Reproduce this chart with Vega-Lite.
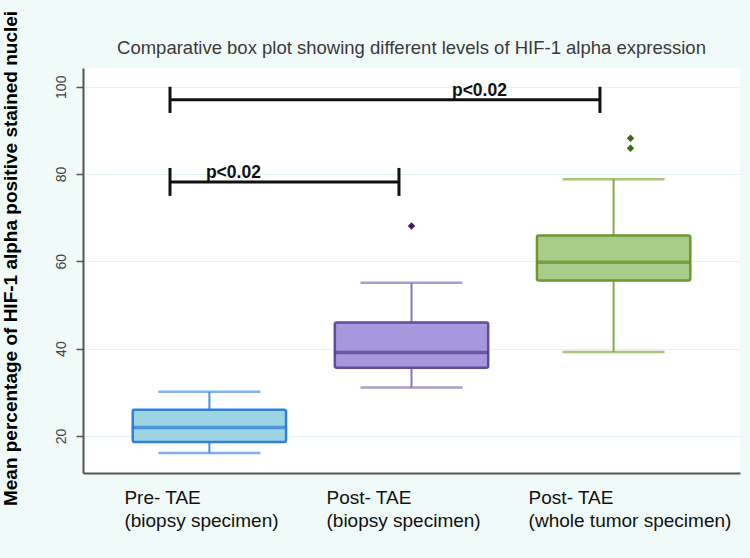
{
  "$schema": "https://vega.github.io/schema/vega-lite/v6.json",
  "width": 657,
  "height": 405,
  "autosize": {"type": "none"},
  "padding": {"left": 83, "top": 68, "right": 10, "bottom": 85},
  "background": "#f0faf9",
  "config": {
    "view": {"fill": "white", "stroke": null},
    "font": "Liberation Sans"
  },
  "title": {
    "text": "Comparative box plot showing different levels of HIF-1 alpha expression",
    "fontSize": 18.5,
    "fontWeight": "normal",
    "color": "#3a3a3a",
    "anchor": "middle",
    "offset": 6,
    "dy": 53,
    "font": "Liberation Sans"
  },
  "datasets": {
    "boxes": [
      {"group": "Pre- TAE|(biopsy specimen)", "lo": 16.1, "q1": 18.6, "med": 21.9, "q3": 26.0, "hi": 30.1},
      {"group": "Post- TAE|(biopsy specimen)", "lo": 31.1, "q1": 35.6, "med": 39.1, "q3": 46.0, "hi": 55.1},
      {"group": "Post- TAE|(whole tumor specimen)", "lo": 39.2, "q1": 55.6, "med": 59.8, "q3": 65.9, "hi": 78.8}
    ],
    "outliers": [
      {"group": "Post- TAE|(biopsy specimen)", "value": 68.1},
      {"group": "Post- TAE|(whole tumor specimen)", "value": 88.2},
      {"group": "Post- TAE|(whole tumor specimen)", "value": 85.9}
    ],
    "bars": [
      {"x1": 0.803, "x2": 2.921, "y": 97.0},
      {"x1": 0.803, "x2": 1.931, "y": 78.2}
    ],
    "ends": [
      {"x": 0.803, "ylo": 94.0, "yhi": 100.0},
      {"x": 2.921, "ylo": 94.0, "yhi": 100.0},
      {"x": 0.803, "ylo": 75.0, "yhi": 81.4},
      {"x": 1.931, "ylo": 75.0, "yhi": 81.4}
    ],
    "plabels": [
      {"x": 2.192, "y": 97.0, "label": "p<0.02"},
      {"x": 0.98, "y": 78.2, "label": "p<0.02"}
    ]
  },
  "layer": [
    {
      "encoding": {
        "x": {
          "field": "group",
          "type": "nominal",
          "sort": null,
          "scale": {"paddingInner": 0.2414, "paddingOuter": 0.246},
          "axis": {
            "title": null,
            "domain": true,
            "domainColor": "#555555",
            "domainWidth": 2,
            "ticks": false,
            "grid": false,
            "labelAngle": 0,
            "labelAlign": "left",
            "labelBaseline": "top",
            "labelOffset": -85,
            "labelPadding": 15,
            "labelFontSize": 19,
            "labelFont": "Liberation Sans",
            "labelColor": "#111111",
            "labelLineHeight": 23,
            "labelLimit": 0,
            "labelOverlap": false,
            "labelBound": false,
            "labelExpr": "split(datum.label, '|')"
          }
        }
      },
      "layer": [
        {
          "data": {"name": "boxes"},
          "mark": {"type": "rule", "strokeWidth": 2},
          "encoding": {
            "y": {
              "field": "lo",
              "type": "quantitative",
              "scale": {"domain": [11.5, 104.3], "nice": false, "zero": false},
              "axis": {
                "values": [20, 40, 60, 80, 100],
                "title": "Mean percentage of HIF-1 alpha positive stained nuclei",
                "titleFontSize": 19,
                "titleFontWeight": "bold",
                "titleColor": "#000000",
                "titleAngle": 270,
                "titleAlign": "center",
                "titleBaseline": "middle",
                "titleX": -73,
                "titleY": 190,
                "titleFont": "Liberation Sans",
                "titleLimit": 0,
                "domainColor": "#555555",
                "domainWidth": 2,
                "tickColor": "#555555",
                "tickSize": 7,
                "tickWidth": 1.5,
                "labelAngle": 270,
                "labelAlign": "center",
                "labelBaseline": "bottom",
                "labelPadding": 8,
                "labelFontSize": 14,
                "labelColor": "#444444",
                "gridColor": "#e3f3f2",
                "gridWidth": 1
              }
            },
            "y2": {"field": "hi"},
            "color": {
              "field": "group",
              "type": "nominal",
              "sort": null,
              "scale": {"range": ["#4a8fe0", "#8a72bd", "#86ab44"]},
              "legend": null
            }
          }
        },
        {
          "data": {"name": "boxes"},
          "mark": {"type": "tick", "size": 102, "thickness": 2.5},
          "encoding": {
            "y": {"field": "lo", "type": "quantitative"},
            "color": {"field": "group", "type": "nominal", "sort": null, "legend": null}
          }
        },
        {
          "data": {"name": "boxes"},
          "mark": {"type": "tick", "size": 102, "thickness": 2.5},
          "encoding": {
            "y": {"field": "hi", "type": "quantitative"},
            "color": {"field": "group", "type": "nominal", "sort": null, "legend": null}
          }
        },
        {
          "data": {"name": "boxes"},
          "mark": {"type": "bar", "strokeWidth": 2.5, "cornerRadius": 2, "opacity": 1},
          "encoding": {
            "y": {"field": "q1", "type": "quantitative"},
            "y2": {"field": "q3"},
            "fill": {
              "field": "group",
              "type": "nominal",
              "sort": null,
              "scale": {"range": ["#9dd4e4", "#a797dd", "#a8cc8a"]},
              "legend": null
            },
            "stroke": {
              "field": "group",
              "type": "nominal",
              "sort": null,
              "scale": {"range": ["#2f7fdc", "#634a9f", "#6b9a2a"]},
              "legend": null
            }
          }
        }
      ]
    },
    {
      "data": {"name": "boxes"},
      "mark": {"type": "tick", "size": 154, "thickness": 3.5},
      "encoding": {
        "x": {"field": "group", "type": "nominal", "sort": null, "scale": {"paddingInner": 0.2414, "paddingOuter": 0.246}, "axis": null},
        "y": {"field": "med", "type": "quantitative"},
        "color": {
          "field": "group",
          "type": "nominal",
          "sort": null,
          "scale": {"range": ["#2a78d6", "#57398f", "#5f8c22"]},
          "legend": null
        }
      }
    },
    {
      "data": {"name": "outliers"},
      "mark": {"type": "point", "filled": true, "shape": "diamond", "size": 55, "opacity": 1},
      "encoding": {
        "x": {"field": "group", "type": "nominal", "sort": null, "scale": {"domain": ["Pre- TAE|(biopsy specimen)", "Post- TAE|(biopsy specimen)", "Post- TAE|(whole tumor specimen)"], "paddingInner": 0.2414, "paddingOuter": 0.246}, "axis": null},
        "y": {"field": "value", "type": "quantitative"},
        "color": {
          "field": "group",
          "type": "nominal",
          "scale": {"domain": ["Post- TAE|(biopsy specimen)", "Post- TAE|(whole tumor specimen)"], "range": ["#3d1f66", "#3f6b10"]},
          "legend": null
        }
      }
    },
    {
      "layer": [
        {
          "data": {"name": "bars"},
          "mark": {"type": "rule", "strokeWidth": 3, "color": "#111111"},
          "encoding": {
            "x": {"field": "x1", "type": "quantitative", "scale": {"domain": [0.3744, 3.611], "nice": false, "zero": false}, "axis": null},
            "x2": {"field": "x2"},
            "y": {"field": "y", "type": "quantitative"}
          }
        },
        {
          "data": {"name": "ends"},
          "mark": {"type": "rule", "strokeWidth": 3, "color": "#111111"},
          "encoding": {
            "x": {"field": "x", "type": "quantitative"},
            "y": {"field": "ylo", "type": "quantitative"},
            "y2": {"field": "yhi"}
          }
        },
        {
          "data": {"name": "plabels"},
          "mark": {"type": "text", "align": "left", "baseline": "bottom", "fontSize": 17.5, "fontWeight": "bold", "color": "#111111", "font": "Liberation Sans"},
          "encoding": {
            "x": {"field": "x", "type": "quantitative"},
            "y": {"field": "y", "type": "quantitative"},
            "text": {"field": "label"}
          }
        }
      ]
    }
  ],
  "resolve": {"scale": {"x": "independent", "color": "independent"}, "axis": {"x": "independent"}}
}
